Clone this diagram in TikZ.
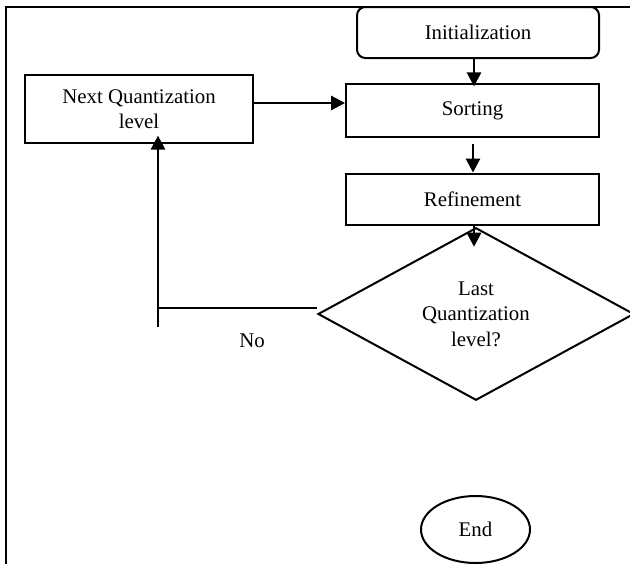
\documentclass[tikz,border=0pt]{standalone}
\usepackage{fontspec}
\setmainfont{Liberation Serif}
\usetikzlibrary{shapes.geometric,arrows.meta}
\tikzset{
	box/.style={draw, line width=1.2pt, rectangle, minimum width=151.8pt, minimum height=30.6pt, inner sep=0pt, align=center},
	startbox/.style={box, rounded corners=5pt, minimum width=145.2pt},
	decision/.style={draw, line width=1.2pt, diamond, minimum width=189.6pt, minimum height=97.2pt, inner sep=0pt, align=center},
	stopbox/.style={draw, line width=1.2pt, ellipse, minimum width=65.4pt, minimum height=40.2pt, inner sep=0pt},
	link/.style={line width=1.2pt},
	flow/.style={link, -{Triangle[length=8.4pt,width=8.6pt]}},
	frame/.style={line width=1.2pt}
}
\begin{document}
\begin{tikzpicture}[x=0.6pt, y=-0.6pt, font=\fontsize{12.5}{15.3}\selectfont]
\useasboundingbox (0,0) rectangle (630,564);

\draw[frame] (630,7) -- (5.5,7) -- (5.5,564);

\node[startbox] (init) at (478,32.5) {Initialization};
\node[box, minimum height=31.8pt] (sort) at (472.5,110.5) {Sorting};
\node[box] (refine) at (472.5,199) {Refinement};
\node[box, minimum width=136.8pt, minimum height=40.8pt] (next) at (139,109) {Next Quantization\\level};
\node[decision] (last) at (476,314) {Last\\Quantization\\level?};
\node[stopbox] (stop) at (475.5,529.5) {End};
\node (no) at (252,341) {No};

\coordinate (turn) at (158,308);
\coordinate (tail) at (158,327);

\draw[flow] (init.south -| 474,0) -- ([yshift=-2pt]sort.north -| 474,0);
\draw[flow, shorten <=3.6pt] (sort.south -| 473,0) -- (refine.north -| 473,0);
\draw[flow] (refine.south -| 474,0) -- ([yshift=-12pt]last.north -| 474,0);
\draw[flow] ([yshift=3.6pt]next.east) -- ([yshift=3.6pt]next.east -| sort.west);
\draw[link] (turn -| last.west) -- (turn);
\draw[flow] (tail) -- ([yshift=5pt]turn |- next.south);
\end{tikzpicture}
\end{document}
